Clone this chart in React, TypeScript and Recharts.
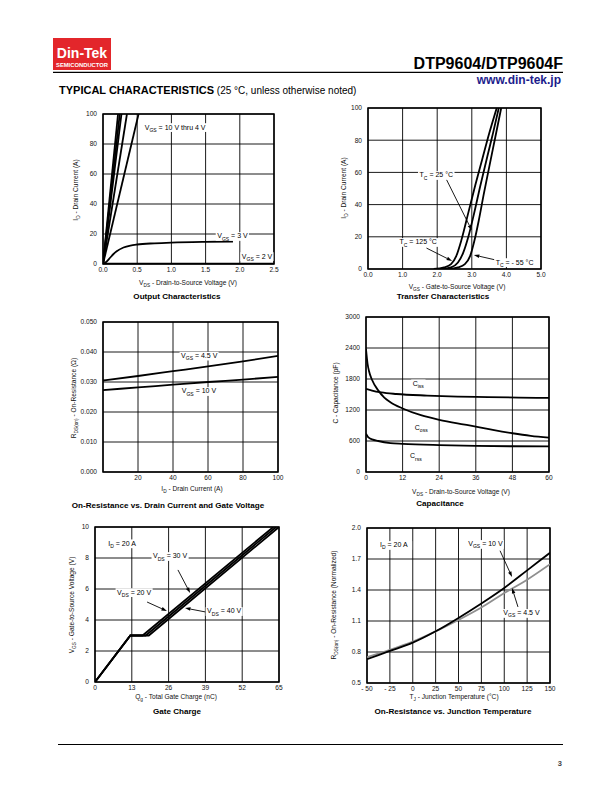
import React from 'react'
import {
  LineChart, Line, XAxis, YAxis, CartesianGrid,
  ReferenceArea, ReferenceDot, ReferenceLine,
} from 'recharts'

type P = [number, number]

const FONT = '"Liberation Sans", Arial, Helvetica, sans-serif'

// ---- Output characteristics (VDS, ID)
const out10: P[] = [[0, 0], [0.22, 100]]
const out8: P[]  = [[0, 0], [0.245, 100]]
const out6: P[]  = [[0, 0], [0.27, 100]]
const out5: P[]  = [[0, 0], [0.35, 100]]
const out4: P[]  = [[0, 0], [0.52, 100]]
const out3: P[]  = [[0, 0], [0.05, 1.5], [0.1, 4], [0.15, 6.5], [0.2, 8.5], [0.3, 11], [0.4, 12.3], [0.5, 13], [0.75, 13.8], [1.0, 14.3], [1.5, 14.8], [1.9, 15]]
const out2: P[]  = [[0, 0.2], [2.5, 0.3]]

// ---- Transfer characteristics (VGS, ID)
const tc125: P[] = [[1.9, 0], [2.2, 1], [2.4, 3], [2.55, 8], [2.7, 18], [2.9, 35], [3.1, 52], [3.3, 68], [3.5, 84], [3.72, 100]]
const tc25: P[]  = [[2.1, 0], [2.4, 1], [2.6, 4], [2.75, 10], [2.9, 20], [3.05, 33], [3.25, 52], [3.45, 70], [3.62, 85], [3.78, 100]]
const tcM55: P[] = [[2.3, 0], [2.6, 1], [2.8, 3], [2.95, 8], [3.08, 18], [3.2, 30], [3.35, 47], [3.5, 63], [3.68, 82], [3.85, 100]]

// ---- On-resistance vs drain current (ID, RDS)
const ron45: P[] = [[0, 0.0305], [20, 0.032], [40, 0.0336], [60, 0.0352], [80, 0.0369], [100, 0.0387]]
const ron10: P[] = [[0, 0.0273], [20, 0.0282], [40, 0.0291], [60, 0.03], [80, 0.0308], [100, 0.0317]]

// ---- Capacitance (VDS, pF)
const ciss: P[] = [[0, 1610], [2, 1575], [5, 1540], [10, 1510], [20, 1480], [30, 1460], [40, 1450], [50, 1440], [60, 1435]]
const coss: P[] = [[0, 2380], [0.5, 2100], [1, 1950], [2, 1780], [4, 1580], [6, 1440], [8, 1350], [12, 1230], [18, 1100], [24, 1010], [30, 940], [36, 880], [42, 810], [48, 750], [54, 700], [60, 665]]
const crss: P[] = [[0, 740], [0.5, 690], [1, 660], [2, 630], [4, 600], [8, 560], [12, 545], [24, 520], [36, 505], [48, 498], [60, 495]]

// ---- Gate charge (Qg, VGS)
const qg20: P[] = [[0, 0], [12.5, 3], [16.8, 3], [63, 10]]
const qg30: P[] = [[0, 0], [12.5, 3], [17.9, 3], [64, 10]]
const qg40: P[] = [[0, 0], [12.5, 3], [19, 3], [65, 10]]

// ---- On-resistance vs junction temperature (TJ, normalized)
const rt10: P[] = [[-50, 0.73], [-25, 0.81], [0, 0.89], [25, 1.0], [50, 1.13], [75, 1.27], [100, 1.42], [125, 1.59], [150, 1.76]]
const rt45: P[] = [[-50, 0.75], [-25, 0.82], [0, 0.9], [25, 1.0], [50, 1.11], [75, 1.23], [100, 1.37], [125, 1.5], [150, 1.65]]

// tick values
const outX = [0, 0.5, 1.0, 1.5, 2.0, 2.5]
const outY = [0, 20, 40, 60, 80, 100]
const trX = [0, 1, 2, 3, 4, 5]
const ronX = [0, 20, 40, 60, 80, 100]
const ronY = [0, 0.01, 0.02, 0.03, 0.04, 0.05]
const capX = [0, 12, 24, 36, 48, 60]
const capY = [0, 600, 1200, 1800, 2400, 3000]
const qgX = [0, 13, 26, 39, 52, 65]
const qgY = [0, 2, 4, 6, 8, 10]
const tjX = [-50, -25, 0, 25, 50, 75, 100, 125, 150]
const tjY = [0.5, 0.8, 1.1, 1.4, 1.7, 2.0]

const pts = (a: P[]) => a.map(([x, y]) => ({ x, y }))

const SUB = /(_\{[^}]*\})/

function rich(text: string, size: number) {
  const parts = text.split(SUB)
  const out: React.ReactNode[] = []
  let low = false
  parts.forEach((p, i) => {
    if (!p) return
    if (p.startsWith('_{')) {
      out.push(<tspan key={i} fontSize={size * 0.72} dy={low ? 0 : size * 0.3}>{p.slice(2, -1)}</tspan>)
      low = true
    } else {
      out.push(<tspan key={i} dy={low ? -size * 0.3 : 0}>{p}</tspan>)
      low = false
    }
  })
  return out
}

// rough Arial widths, only used to size the white box behind a note
function charW(c: string) {
  if (/[0-9]/.test(c)) return 0.556
  if (c === ' ' || c === '.' || c === ',') return 0.278
  if (c === '=') return 0.584
  if (c === '-') return 0.333
  if (c === '°') return 0.4
  if (/[ijlt]/.test(c)) return 0.25
  if (/[A-Z]/.test(c)) return 0.68
  return 0.53
}
function richWidth(text: string, size: number) {
  let w = 0
  text.split(SUB).forEach((p) => {
    if (!p) return
    const sub = p.startsWith('_{')
    const s = sub ? p.slice(2, -1) : p
    for (const c of s) w += charW(c) * (sub ? size * 0.72 : size)
  })
  return w
}

type Series = { data: P[]; color?: string; width?: number; curve?: 'monotone' | 'linear' }
type Note = { x: number; y: number; text: string }
type Arrow = { from: [number, number]; to: [number, number] }

const TICK = { fontSize: 6.6, fill: '#111', fontFamily: FONT }
const NOTE_SIZE = 7

function arrowShape(p: any) {
  const { x1, y1, x2, y2 } = p
  const a = Math.atan2(y2 - y1, x2 - x1)
  const len = 5.5, half = 1.8
  const bx = x2 - len * Math.cos(a), by = y2 - len * Math.sin(a)
  const l = [bx + half * Math.sin(a), by - half * Math.cos(a)]
  const r = [bx - half * Math.sin(a), by + half * Math.cos(a)]
  return (
    <g>
      <line x1={x1} y1={y1} x2={bx} y2={by} stroke="#000" strokeWidth={0.9} />
      <polygon points={`${x2},${y2} ${l[0]},${l[1]} ${r[0]},${r[1]}`} fill="#000" />
    </g>
  )
}

function Panel(props: {
  plot: { l: number; t: number; r: number; b: number }
  xDomain: [number, number]; yDomain: [number, number]
  xTicks: number[]; yTicks: number[]
  xFmt: (v: number) => string; yFmt: (v: number) => string
  series: Series[]; notes?: Note[]; arrows?: Arrow[]
}) {
  const { plot, xDomain, yDomain, xTicks, yTicks, xFmt, yFmt, series, notes = [], arrows = [] } = props
  const padL = 40, padT = 6, padR = 8, axH = 16
  const w = plot.r - plot.l, h = plot.b - plot.t
  return (
    <div style={{ position: 'absolute', left: plot.l - padL, top: plot.t - padT }}>
      <LineChart width={w + padL + padR} height={h + padT + axH} margin={{ top: padT, right: padR, left: 0, bottom: 0 }}>
        <CartesianGrid stroke="#000" strokeWidth={0.9} />
        <XAxis
          type="number" dataKey="x" domain={xDomain} ticks={xTicks} interval={0}
          tickFormatter={xFmt} allowDataOverflow axisLine={false} tickLine={false}
          tickSize={2} tickMargin={1} height={axH} tick={TICK}
        />
        <YAxis
          type="number" dataKey="y" domain={yDomain} ticks={yTicks} interval={0}
          tickFormatter={yFmt} allowDataOverflow axisLine={false} tickLine={false}
          tickSize={2} tickMargin={4} width={padL} tick={TICK}
        />
        {series.map((s, i) => (
          <Line
            key={i} data={pts(s.data)} dataKey="y" type={s.curve ?? 'monotone'}
            stroke={s.color ?? '#000'} strokeWidth={s.width ?? 1.8}
            dot={false} activeDot={false} isAnimationActive={false}
          />
        ))}
        <ReferenceArea
          x1={xDomain[0]} x2={xDomain[1]} y1={yDomain[0]} y2={yDomain[1]}
          fill="none" fillOpacity={0} stroke="#000" strokeWidth={1.5} ifOverflow="visible"
        />
        {notes.map((n, i) => (
          <ReferenceDot
            key={'n' + i} x={n.x} y={n.y} r={0} ifOverflow="visible"
            shape={(p: any) => (
              <g>
                <rect
                  x={p.cx - 1.5} y={p.cy - NOTE_SIZE * 0.55}
                  width={richWidth(n.text, NOTE_SIZE) + 3} height={NOTE_SIZE * 1.25} fill="#fff"
                />
                <text x={p.cx} y={p.cy + NOTE_SIZE * 0.35} fontSize={NOTE_SIZE} fontFamily={FONT} fill="#000">
                  {rich(n.text, NOTE_SIZE)}
                </text>
              </g>
            )}
          />
        ))}
        {arrows.map((a, i) => (
          <ReferenceLine
            key={'a' + i} ifOverflow="visible"
            segment={[{ x: a.from[0], y: a.from[1] }, { x: a.to[0], y: a.to[1] }]}
            shape={arrowShape}
          />
        ))}
      </LineChart>
    </div>
  )
}

function AxisTitle({ x, y, text, rotate }: { x: number; y: number; text: string; rotate?: boolean }) {
  return (
    <text
      x={x} y={y} fontSize={6.6} fontFamily={FONT} fill="#111" textAnchor="middle"
      transform={rotate ? `rotate(-90 ${x} ${y})` : undefined}
    >
      {rich(text, 6.6)}
    </text>
  )
}

function Title({ x, y, text }: { x: number; y: number; text: string }) {
  return (
    <text x={x} y={y} fontSize={8.1} fontWeight="bold" fontFamily={FONT} fill="#000" textAnchor="middle">
      {text}
    </text>
  )
}

const f1 = (v: number) => v.toFixed(1)
const f0 = (v: number) => String(v)

export default function App() {
  return (
    <div style={{ position: 'absolute', left: 0, top: 0, width: 612, height: 792, background: '#fff', fontFamily: FONT }}>
      <svg width={612} height={792} style={{ position: 'absolute', left: 0, top: 0 }}>
        {/* header */}
        <rect x={53} y={38} width={58} height={32} fill="#e3262b" />
        <text x={82} y={58} fontSize={14} fontWeight="bold" fill="#fff" textAnchor="middle" fontFamily={FONT}>Din-Tek</text>
        <text x={82} y={66.5} fontSize={5.4} fontWeight="bold" fill="#fff" textAnchor="middle" fontFamily={FONT}
          textLength={52} lengthAdjust="spacingAndGlyphs">SEMICONDUCTOR</text>
        <line x1={53} x2={563} y1={72.3} y2={72.3} stroke="#000" strokeWidth={1.3} />
        <text x={563} y={69} fontSize={16} fontWeight="bold" fill="#000" textAnchor="end" fontFamily={FONT}>DTP9604/DTP9604F</text>
        <text x={561} y={84} fontSize={12} fontWeight="bold" fill="#1c1c8c" textAnchor="end" fontFamily={FONT}>www.din-tek.jp</text>
        <text x={59} y={94} fontFamily={FONT} fill="#000">
          <tspan fontSize={11} fontWeight="bold">TYPICAL CHARACTERISTICS</tspan>
          <tspan fontSize={10}> (25 °C, unless otherwise noted)</tspan>
        </text>

        {/* axis titles and chart titles */}
        <AxisTitle x={78} y={190} text="I_{D} - Drain Current (A)" rotate />
        <AxisTitle x={188} y={285} text="V_{DS} - Drain-to-Source Voltage (V)" />
        <Title x={177} y={299} text="Output Characteristics" />

        <AxisTitle x={346} y={188} text="I_{D} - Drain Current (A)" rotate />
        <AxisTitle x={457} y={289} text="V_{GS} - Gate-to-Source Voltage (V)" />
        <Title x={443} y={299} text="Transfer Characteristics" />

        <AxisTitle x={76} y={398} text="R_{DS(on)} - On-Resistance (Ω)" rotate />
        <AxisTitle x={192} y={491} text="I_{D} - Drain Current (A)" />
        <Title x={168} y={508} text="On-Resistance vs. Drain Current and Gate Voltage" />

        <AxisTitle x={338} y={393} text="C - Capacitance (pF)" rotate />
        <AxisTitle x={461} y={494} text="V_{DS} - Drain-to-Source Voltage (V)" />
        <Title x={440} y={506} text="Capacitance" />

        <AxisTitle x={74} y={605} text="V_{GS} - Gate-to-Source Voltage (V)" rotate />
        <AxisTitle x={176} y={699} text="Q_{g} - Total Gate Charge (nC)" />
        <Title x={177} y={714} text="Gate Charge" />

        <AxisTitle x={336} y={605} text="R_{DS(on)} - On-Resistance (Normalized)" rotate />
        <AxisTitle x={454} y={699} text="T_{J} - Junction Temperature (°C)" />
        <Title x={453} y={714} text="On-Resistance vs. Junction Temperature" />

        {/* footer */}
        <line x1={58} x2={563} y1={744.5} y2={744.5} stroke="#000" strokeWidth={1.2} />
        <text x={562} y={766} fontSize={7.5} fontWeight="bold" fill="#444" textAnchor="end" fontFamily={FONT}>3</text>
      </svg>

      <Panel
        plot={{ l: 103, t: 114, r: 274, b: 264 }}
        xDomain={[0, 2.5]} yDomain={[0, 100]} xTicks={outX} yTicks={outY} xFmt={f1} yFmt={f0}
        series={[{ data: out10 }, { data: out8 }, { data: out6 }, { data: out5 }, { data: out4 }, { data: out3 }, { data: out2 }]}
        notes={[
          { x: 0.61, y: 91.3, text: 'V_{GS} = 10 V thru 4 V' },
          { x: 1.67, y: 18.7, text: 'V_{GS} = 3 V' },
          { x: 2.03, y: 5.3, text: 'V_{GS} = 2 V' },
        ]}
      />

      <Panel
        plot={{ l: 368, t: 108, r: 541, b: 269 }}
        xDomain={[0, 5]} yDomain={[0, 100]} xTicks={trX} yTicks={outY} xFmt={f1} yFmt={f0}
        series={[{ data: tc125 }, { data: tc25 }, { data: tcM55 }]}
        notes={[
          { x: 1.49, y: 58.4, text: 'T_{C} = 25 °C' },
          { x: 0.91, y: 16.8, text: 'T_{C} = 125 °C' },
          { x: 3.69, y: 4.3, text: 'T_{C} = - 55 °C' },
        ]}
        arrows={[
          { from: [2.26, 55.9], to: [3.0, 24] },
          { from: [1.69, 13], to: [2.43, 5] },
          { from: [3.69, 5.6], to: [3.06, 8.7] },
        ]}
      />

      <Panel
        plot={{ l: 103, t: 322, r: 278, b: 472 }}
        xDomain={[0, 100]} yDomain={[0, 0.05]} xTicks={ronX} yTicks={ronY}
        xFmt={(v) => (v === 0 ? '' : String(v))} yFmt={(v) => v.toFixed(3)}
        series={[{ data: ron45 }, { data: ron10 }]}
        notes={[
          { x: 44.6, y: 0.0388, text: 'V_{GS} = 4.5 V' },
          { x: 45, y: 0.027, text: 'V_{GS} = 10 V' },
        ]}
      />

      <Panel
        plot={{ l: 366, t: 317, r: 549, b: 472 }}
        xDomain={[0, 60]} yDomain={[0, 3000]} xTicks={capX} yTicks={capY} xFmt={f0} yFmt={f0}
        series={[{ data: ciss }, { data: coss }, { data: crss }]}
        notes={[
          { x: 15.3, y: 1716, text: 'C_{iss}' },
          { x: 16, y: 858, text: 'C_{oss}' },
          { x: 14.4, y: 310, text: 'C_{rss}' },
        ]}
      />

      <Panel
        plot={{ l: 95, t: 527, r: 279, b: 682 }}
        xDomain={[0, 65]} yDomain={[0, 10]} xTicks={qgX} yTicks={qgY} xFmt={f0} yFmt={f0}
        series={[
          { data: qg20, curve: 'linear', width: 1.8 },
          { data: qg30, curve: 'linear', width: 1.8 },
          { data: qg40, curve: 'linear', width: 1.8 },
        ]}
        notes={[
          { x: 4.7, y: 8.95, text: 'I_{D} = 20 A' },
          { x: 20.5, y: 8.13, text: 'V_{DS} = 30 V' },
          { x: 7.8, y: 5.8, text: 'V_{DS} = 20 V' },
          { x: 39.6, y: 4.58, text: 'V_{DS} = 40 V' },
        ]}
        arrows={[
          { from: [29.3, 7.23], to: [33.6, 5.74] },
          { from: [18.4, 5.16], to: [25.4, 4.58] },
          { from: [39.6, 4.5], to: [31.8, 4.77] },
        ]}
      />

      <Panel
        plot={{ l: 367, t: 528, r: 550, b: 683 }}
        xDomain={[-50, 150]} yDomain={[0.5, 2.0]} xTicks={tjX} yTicks={tjY}
        xFmt={(v) => (v < 0 ? `- ${-v}` : String(v))} yFmt={f1}
        series={[{ data: rt45, color: '#8f8f8f' }, { data: rt10 }]}
        notes={[
          { x: -35.8, y: 1.836, text: 'I_{D} = 20 A' },
          { x: 60.7, y: 1.846, text: 'V_{GS} = 10 V' },
          { x: 99, y: 1.178, text: 'V_{GS} = 4.5 V' },
        ]}
        arrows={[
          { from: [95.4, 1.78], to: [108.5, 1.526] },
          { from: [115, 1.236], to: [108.5, 1.42] },
        ]}
      />
    </div>
  )
}
